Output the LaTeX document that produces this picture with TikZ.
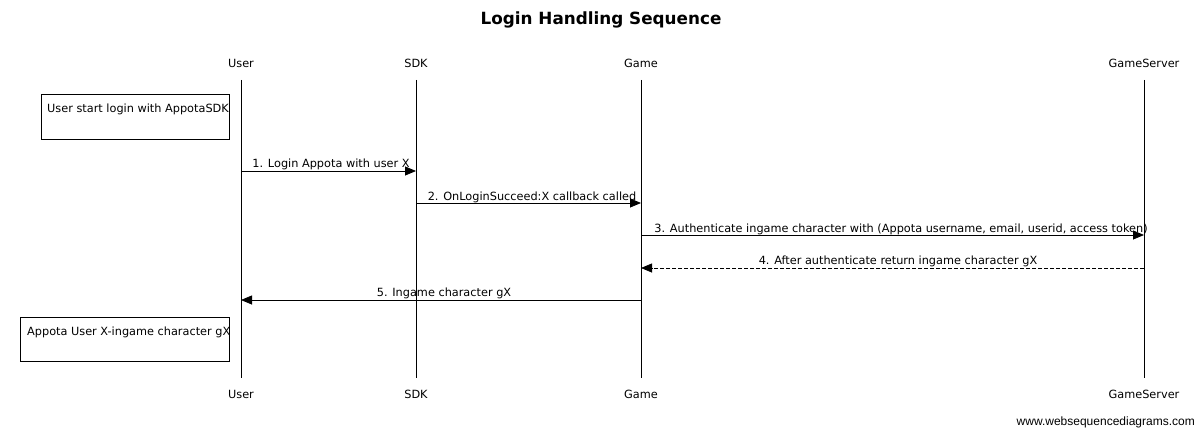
\documentclass[tikz,border=0pt]{standalone}
\usepackage{fontspec}
\setmainfont{DejaVu Sans}
\newfontfamily\wsdfoot{Liberation Sans}
\usetikzlibrary{arrows.meta}
\begin{document}
\begin{tikzpicture}[x=1pt,y=-1pt,
  lbl/.style={font=\fontsize{11.3}{13}\selectfont, inner sep=0pt},
  lifeline/.style={draw=black, line width=0.8pt},
  msg/.style={draw=black, line width=0.8pt, -{Triangle[length=11pt,width=9pt]}},
  retmsg/.style={msg, dash pattern=on 4pt off 2pt},
  notebox/.style={draw=black, line width=0.8pt},
  mlbl/.style={lbl, anchor=base}]
\useasboundingbox (0,0) rectangle (1200,428);
\fill[white] (0,0) rectangle (1200,428);
\node[font=\bfseries\fontsize{16.8}{20}\selectfont, inner sep=0pt] (title) at (601,20) {Login Handling Sequence};
% heads
\foreach \n/\x/\t in {user/241/User, sdk/416/SDK, game/641/Game, srv/1144/GameServer}{
  \node[lbl] (\n h) at (\x,63) {\t};
  \node[lbl] (\n f) at (\x,394) {\t};
  \coordinate (\n top) at (\x,80);
  \coordinate (\n bot) at (\x,378);
  \draw[lifeline] (\n top) -- (\n bot);
}
% notes
\draw[notebox] (41,94) rectangle (229,139);
\node[mlbl, anchor=base west] (note1) at (47,112) {User start login with AppotaSDK};
\draw[notebox] (20,317) rectangle (229,361);
\node[mlbl, anchor=base west] (note2) at (27,335) {Appota User X-ingame character gX};
% message endpoints
\coordinate (m1a) at (241,171); \coordinate (m1b) at (416,171);
\coordinate (m2a) at (416,203); \coordinate (m2b) at (641,203);
\coordinate (m3a) at (641,235); \coordinate (m3b) at (1144,235);
\coordinate (m4a) at (1144,268); \coordinate (m4b) at (641,268);
\coordinate (m5a) at (641,300); \coordinate (m5b) at (241,300);
\draw[msg] (m1a) -- (m1b);
\draw[msg] (m2a) -- (m2b);
\draw[msg] (m3a) -- (m3b);
\draw[retmsg] (m4a) -- (m4b);
\draw[msg] (m5a) -- (m5b);
\node[mlbl] (l1) at (331,167) {1. Login Appota with user X};
\node[mlbl] (l2) at (532,200) {2. OnLoginSucceed:X callback called};
\node[mlbl] (l3) at (901,232) {3. Authenticate ingame character with (Appota username, email, userid, access token)};
\node[mlbl] (l4) at (898,264) {4. After authenticate return ingame character gX};
\node[mlbl] (l5) at (444,296) {5. Ingame character gX};
\node[inner sep=0pt, font=\wsdfoot\fontsize{12}{14}\selectfont, anchor=base east] (foot) at (1195,425) {www.websequencediagrams.com};
\end{tikzpicture}
\end{document}
